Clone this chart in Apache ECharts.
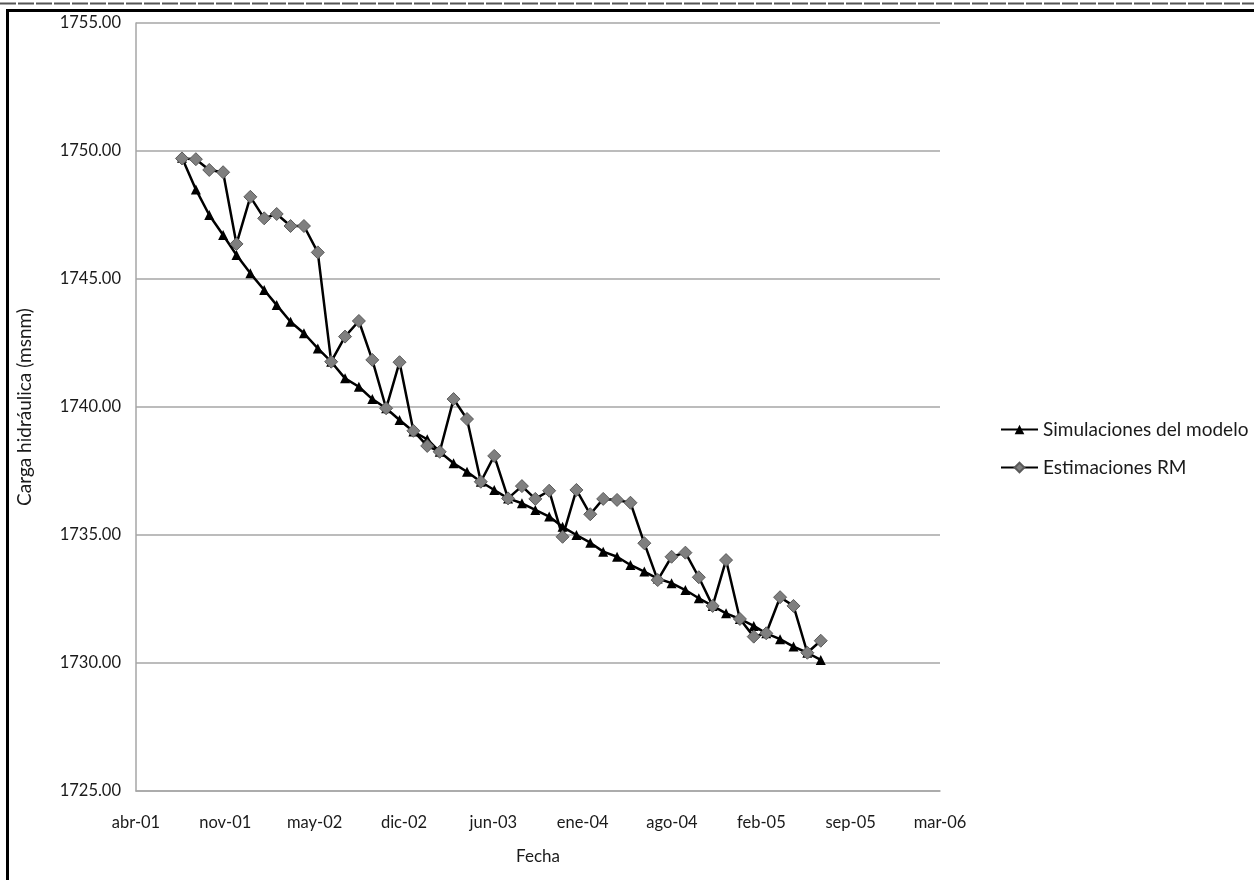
<!DOCTYPE html>
<html>
<head>
<meta charset="utf-8">
<script src="https://cdn.jsdelivr.net/npm/echarts@6/dist/echarts.min.js"></script>
<style>
html,body{margin:0;padding:0;background:#fff;}
#chart{width:1254px;height:880px;}
</style>
</head>
<body>
<div id="chart"></div>
<script>
// Monthly dates of the observations
var months = [
 '2001-08','2001-09','2001-10','2001-11','2001-12',
 '2002-01','2002-02','2002-03','2002-04','2002-05','2002-06','2002-07','2002-08','2002-09','2002-10','2002-11','2002-12',
 '2003-01','2003-02','2003-03','2003-04','2003-05','2003-06','2003-07','2003-08','2003-09','2003-10','2003-11','2003-12',
 '2004-01','2004-02','2004-03','2004-04','2004-05','2004-06','2004-07','2004-08','2004-09','2004-10','2004-11','2004-12',
 '2005-01','2005-02','2005-03','2005-04','2005-05','2005-06','2005-07'
];
// Simulaciones del modelo (msnm)
var simulaciones = [
 1749.74,1748.50,1747.50,1746.72,1745.94,1745.22,1744.57,1743.98,1743.33,1742.88,1742.29,1741.77,
 1741.12,1740.79,1740.31,1739.95,1739.49,1739.04,1738.74,1738.25,1737.80,1737.47,1737.08,1736.76,
 1736.43,1736.24,1735.98,1735.72,1735.32,1735.00,1734.70,1734.35,1734.15,1733.83,1733.57,1733.30,
 1733.12,1732.85,1732.53,1732.23,1731.94,1731.72,1731.45,1731.16,1730.93,1730.64,1730.40,1730.12
];
// Estimaciones RM (msnm)
var estimaciones = [
 1749.71,1749.68,1749.26,1749.17,1746.37,1748.21,1747.37,1747.54,1747.07,1747.07,1746.04,1741.77,
 1742.75,1743.36,1741.84,1739.95,1741.75,1739.07,1738.48,1738.25,1740.31,1739.53,1737.08,1738.09,
 1736.43,1736.91,1736.41,1736.73,1734.93,1736.76,1735.81,1736.41,1736.37,1736.26,1734.68,1733.24,
 1734.15,1734.31,1733.35,1732.23,1734.02,1731.72,1731.03,1731.16,1732.57,1732.23,1730.40,1730.87
];
var mesesES = ['ene','feb','mar','abr','may','jun','jul','ago','sep','oct','nov','dic'];
var axisBase = Date.UTC(2001, 3, 20); // date axis origin
var DAY = 86400000;
function dayOffset(ym){
  var p = ym.split('-');
  return Math.round((Date.UTC(+p[0], +p[1]-1, 1) - axisBase) / DAY);
}
function fmtDay(v){
  var d = new Date(axisBase + v * DAY);
  var yy = String(d.getUTCFullYear() % 100);
  if (yy.length < 2) yy = '0' + yy;
  return mesesES[d.getUTCMonth()] + '-' + yy;
}
var simData = months.map(function(m, i){ return [dayOffset(m), simulaciones[i]]; });
var estData = months.map(function(m, i){ return [dayOffset(m), estimaciones[i]]; });

var FONT = 'Lato';
var TXT = '#1a1a1a';
var GRID = '#a6a6a6';
var chart = echarts.init(document.getElementById('chart'), null, {renderer: 'canvas'});
chart.setOption({
  animation: false,
  backgroundColor: '#ffffff',
  textStyle: {fontFamily: FONT},
  grid: {left: 136, top: 23, right: 314, bottom: 89, containLabel: false},
  xAxis: {
    type: 'value', min: 0, max: 1800, interval: 200,
    name: 'Fecha', nameLocation: 'middle', nameGap: 57,
    nameTextStyle: {fontFamily: FONT, fontSize: 17, color: TXT},
    axisLine: {show: true, lineStyle: {color: GRID, width: 1.5}},
    axisTick: {show: false},
    splitLine: {show: false},
    axisLabel: {fontFamily: FONT, fontSize: 16.5, color: TXT, margin: 23, formatter: fmtDay, showMinLabel: true, showMaxLabel: true}
  },
  yAxis: {
    type: 'value', min: 1725, max: 1755, interval: 5,
    name: 'Carga hidráulica (msnm)', nameLocation: 'middle', nameGap: 102,
    nameTextStyle: {fontFamily: FONT, fontSize: 19, color: TXT},
    axisLine: {show: true, lineStyle: {color: GRID, width: 1.5}},
    axisTick: {show: false},
    splitLine: {show: true, lineStyle: {color: GRID, width: 1.5}},
    axisLabel: {fontFamily: FONT, fontSize: 16.5, color: TXT, margin: 15, formatter: function(v){ return v.toFixed(2); }}
  },
  legend: {
    orient: 'vertical', left: 995, top: 415,
    itemWidth: 37, itemHeight: 12, itemGap: 19,
    textStyle: {fontFamily: FONT, fontSize: 19, color: TXT},
    data: ['Simulaciones del modelo', 'Estimaciones RM']
  },
  series: [
    {
      name: 'Simulaciones del modelo', type: 'line', data: simData,
      symbol: 'triangle', symbolSize: 10, showAllSymbol: true,
      lineStyle: {color: '#000', width: 2.5},
      itemStyle: {color: '#000', borderColor: '#000', borderWidth: 0},
      z: 2
    },
    {
      name: 'Estimaciones RM', type: 'line', data: estData,
      symbol: 'diamond', symbolSize: 13, showAllSymbol: true,
      lineStyle: {color: '#000', width: 2.5},
      itemStyle: {color: '#7f7f7f', borderColor: '#5a5a5a', borderWidth: 1},
      z: 3
    }
  ],
  graphic: [
    {type: 'line', shape: {x1: 0, y1: 3.5, x2: 1254, y2: 3.5}, style: {stroke: '#555', lineWidth: 2, lineDash: [16, 2]}},
    {type: 'line', shape: {x1: 6, y1: 10.5, x2: 1254, y2: 10.5}, style: {stroke: '#000', lineWidth: 3}},
    {type: 'line', shape: {x1: 7.5, y1: 9, x2: 7.5, y2: 880}, style: {stroke: '#000', lineWidth: 3}}
  ]
});
</script>
</body>
</html>
